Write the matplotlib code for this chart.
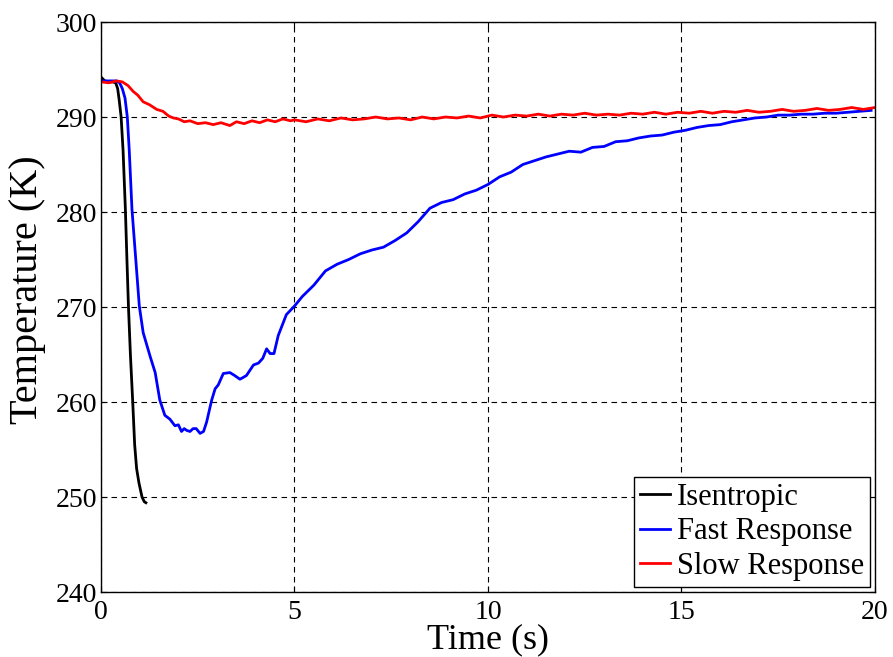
import matplotlib
matplotlib.use('Agg')
import matplotlib.pyplot as plt

# Isentropic
iso_t = [0, 0.1, 0.2, 0.3, 0.38, 0.43, 0.47, 0.52, 0.57, 0.63, 0.67, 0.71, 0.76,
         0.82, 0.87, 0.92, 0.98, 1.06, 1.12, 1.16]
iso_T = [294.2, 293.8, 293.7, 293.7, 293.6, 293.0, 291.8, 290.0, 286.5, 280.3, 275.0,
         270.0, 265.0, 260.0, 255.5, 253.0, 251.5, 250.0, 249.5, 249.4]

# Fast response
fast_t = [0, 0.2, 0.4, 0.48, 0.55, 0.62, 0.68, 0.73, 0.80, 0.99, 1.09, 1.27, 1.40, 1.52,
          1.65, 1.78, 1.91, 2.00, 2.08, 2.15, 2.22, 2.30, 2.38, 2.46, 2.56, 2.65, 2.73,
          2.86, 2.95, 3.03, 3.16, 3.33, 3.45, 3.59, 3.68, 3.76, 3.94, 4.07, 4.18, 4.28,
          4.37, 4.47, 4.58, 4.79, 5.0, 5.2, 5.5, 5.8, 6.1, 6.4, 6.7, 7.0, 7.3, 7.6, 7.9,
          8.2, 8.5, 8.8, 9.1, 9.4, 9.7, 10.0, 10.3, 10.6, 10.9, 11.2, 11.5, 11.8, 12.1,
          12.4, 12.7, 13.0, 13.3, 13.6, 13.9, 14.2, 14.5, 14.8, 15.1, 15.4, 15.7, 16.0,
          16.3, 16.6, 16.9, 17.2, 17.5, 17.8, 18.1, 18.4, 18.7, 19.0, 19.3, 19.6, 19.9]
fast_T = [293.8, 293.8, 293.8, 293.6, 293.0, 292.0, 290.0, 286.5, 280.3, 270.1, 267.3,
          264.8, 263.1, 260.2, 258.6, 258.2, 257.5, 257.6, 256.9, 257.2, 257.0, 256.9,
          257.2, 257.2, 256.7, 256.9, 257.9, 260.2, 261.4, 261.8, 263.0, 263.1, 262.8,
          262.4, 262.6, 262.8, 263.9, 264.1, 264.6, 265.6, 265.1, 265.1, 267.0, 269.2,
          270.1, 271.1, 272.3, 273.8, 274.5, 275.0, 275.6, 276.0, 276.3, 277.0, 277.8,
          279.0, 280.4, 281.0, 281.3, 281.9, 282.3, 282.9, 283.7, 284.2, 285.0, 285.4,
          285.8, 286.1, 286.4, 286.3, 286.8, 286.9, 287.4, 287.5, 287.8, 288.0, 288.1,
          288.4, 288.6, 288.9, 289.1, 289.2, 289.5, 289.7, 289.9, 290.0, 290.2, 290.2,
          290.3, 290.3, 290.4, 290.4, 290.5, 290.6, 290.7]

# Slow response
slow_t = [0, 0.2, 0.4, 0.55, 0.7, 0.83, 0.95, 1.09, 1.25, 1.44, 1.6, 1.75, 1.87, 2.0,
          2.15, 2.3, 2.5, 2.7, 2.9, 3.1, 3.33, 3.5, 3.7, 3.9, 4.1, 4.3, 4.5, 4.7, 4.9,
          5.0, 5.3, 5.6, 5.9, 6.2, 6.5, 6.8, 7.1, 7.4, 7.7, 8.0, 8.3, 8.6, 8.9, 9.2, 9.5,
          9.8, 10.1, 10.4, 10.7, 11.0, 11.3, 11.6, 11.9, 12.2, 12.5, 12.8, 13.1, 13.4,
          13.7, 14.0, 14.3, 14.6, 14.9, 15.2, 15.5, 15.8, 16.1, 16.4, 16.7, 17.0, 17.3,
          17.6, 17.9, 18.2, 18.5, 18.8, 19.1, 19.4, 19.7, 20.0]
slow_T = [293.7, 293.6, 293.8, 293.7, 293.3, 292.7, 292.3, 291.6, 291.3, 290.8, 290.6,
          290.1, 289.9, 289.8, 289.5, 289.6, 289.3, 289.4, 289.2, 289.4, 289.1, 289.5,
          289.3, 289.6, 289.4, 289.7, 289.5, 289.8, 289.6, 289.7, 289.5, 289.8, 289.6,
          289.9, 289.7, 289.8, 290.0, 289.8, 289.9, 289.7, 290.0, 289.8, 290.0, 289.9,
          290.1, 289.9, 290.2, 290.0, 290.2, 290.1, 290.3, 290.1, 290.3, 290.2, 290.4,
          290.2, 290.3, 290.2, 290.4, 290.3, 290.5, 290.3, 290.5, 290.4, 290.6, 290.4,
          290.6, 290.5, 290.7, 290.5, 290.6, 290.8, 290.6, 290.7, 290.9, 290.7, 290.8,
          291.0, 290.8, 291.0]

x_ticks = [0, 5, 10, 15, 20]
y_ticks = [240, 250, 260, 270, 280, 290, 300]

plt.rcParams['font.family'] = ['Liberation Serif', 'DejaVu Serif']

fig = plt.figure(figsize=(8.93, 6.57), dpi=100)
ax = fig.add_axes([0.1131, 0.0989, 0.8667, 0.8676])

ax.plot(iso_t, iso_T, color='black', lw=2, label='Isentropic')
ax.plot(fast_t, fast_T, color='blue', lw=2, label='Fast Response')
ax.plot(slow_t, slow_T, color='red', lw=2, label='Slow Response')

ax.set_xlim(0, 20)
ax.set_ylim(240, 300)
ax.set_xticks(x_ticks)
ax.set_yticks(y_ticks)
ax.tick_params(axis='both', direction='in', top=True, right=True, length=4,
               labelsize=20)
ax.tick_params(axis='x', pad=6)
ax.tick_params(axis='y', pad=3)
ax.grid(True, color='black', linestyle=(0, (5, 4)), linewidth=0.8)
for s in ax.spines.values():
    s.set_linewidth(1)

ax.set_xlabel('Time (s)', fontsize=26)
ax.set_ylabel('Temperature (K)', fontsize=29)
ax.xaxis.set_label_coords(0.5, -0.055)
ax.yaxis.set_label_coords(-0.071, 0.53)

leg = ax.legend(loc='lower right', fontsize=22, fancybox=False, edgecolor='black',
                framealpha=1, handlelength=1.0, handletextpad=0.2, labelspacing=0.18,
                borderpad=0.2, borderaxespad=0.17)
leg.get_frame().set_linewidth(1)

plt.savefig('out.png', dpi=100)
